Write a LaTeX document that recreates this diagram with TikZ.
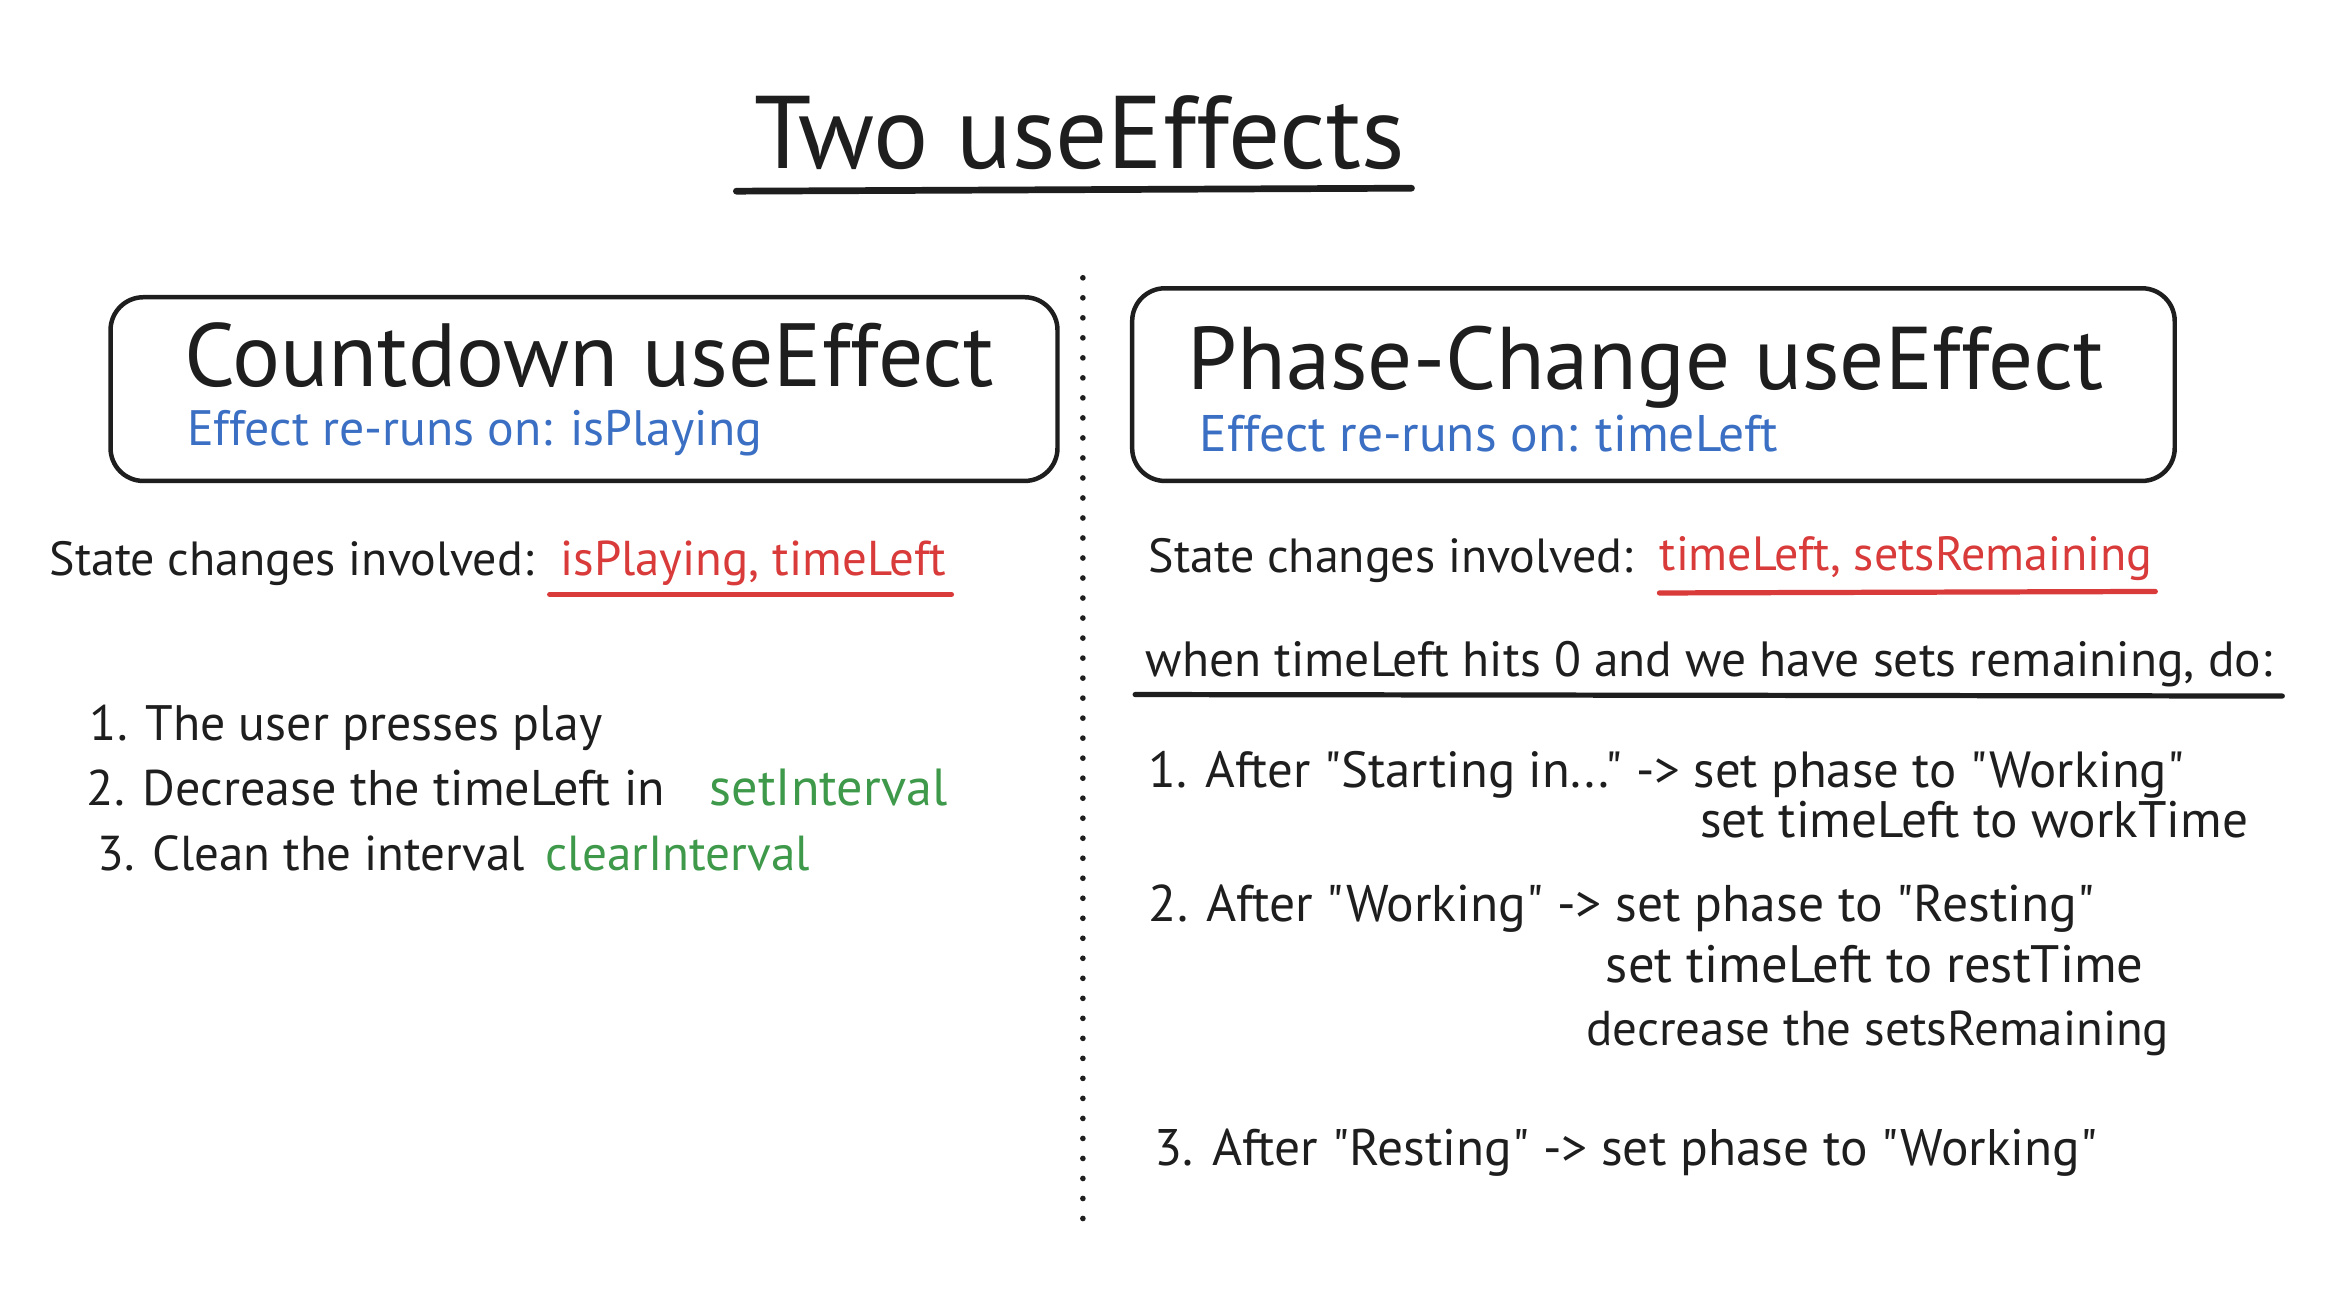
\documentclass[tikz,border=0pt]{standalone}
\usepackage{fontspec}
\setmainfont{PT Sans}[Ligatures=TeXOff]
\usepackage{graphicx}
\definecolor{ink}{HTML}{1E1E1E}
\definecolor{eblue}{HTML}{3A6FC4}
\definecolor{ered}{HTML}{D93A3A}
\definecolor{egreen}{HTML}{3E9A4A}
\newcommand\fitw[2]{\resizebox{#1pt}{!}{#2}}
\tikzset{
  txt/.style={inner sep=0pt, anchor=base west, text=ink, font=\fontsize{20}{24}\selectfont},
  bluetxt/.style={txt, text=eblue},
  redtxt/.style={txt, text=ered},
  greentxt/.style={txt, text=egreen},
  card/.style={draw=ink, line width=3pt, rounded corners=22pt},
  inkline/.style={draw=ink, line width=3.5pt, line cap=round},
  redline/.style={draw=ered, line width=3.5pt, line cap=round},
  dotline/.style={draw=ink, line width=3.8pt, line cap=round, dash pattern=on 0pt off 13.4pt}
}
\begin{document}
\begin{tikzpicture}[x=1pt,y=-1pt]
\useasboundingbox[fill=white] (0,0) rectangle (1568,869);

% title
\node[txt] (title) at (505,113) {\fitw{435}{Two useEffects}};
\coordinate (tulA) at (493,128);
\coordinate (tulB) at (945,126);
\draw[inkline, line width=4.5pt] (tulA) -- (tulB);

% divider
\coordinate (divT) at (725,186);
\coordinate (divB) at (725,825);
\draw[dotline] (divT) -- (divB);

% left card
\coordinate (lcA) at (74,199);
\coordinate (lcB) at (708,322);
\draw[card] (lcA) rectangle (lcB);
\node[txt] (lhead) at (123,259) {\fitw{542}{Countdown useEffect}};
\node[bluetxt] (lsub) at (125,298) {\fitw{385}{Effect re-runs on: isPlaying}};

% right card
\coordinate (rcA) at (758,193);
\coordinate (rcB) at (1456,322);
\draw[card] (rcA) rectangle (rcB);
\node[txt] (rhead) at (795,261) {\fitw{613}{Phase-Change useEffect}};
\node[bluetxt] (rsub) at (803,302) {\fitw{387}{Effect re-runs on: timeLeft}};

% left state changes
\node[txt] (lstate) at (33,385) {\fitw{324}{State changes involved:}};
\node[redtxt] (lstatev) at (375,385) {\fitw{258}{isPlaying, timeLeft}};
\coordinate (lulA) at (368,398);
\coordinate (lulB) at (637,398);
\draw[redline] (lulA) -- (lulB);

% right state changes
\node[txt] (rstate) at (769,383) {\fitw{324}{State changes involved:}};
\node[redtxt] (rstatev) at (1111,382) {\fitw{330}{timeLeft, setsRemaining}};
\coordinate (rulA) at (1111,397);
\coordinate (rulB) at (1443,396);
\draw[redline] (rulA) -- (rulB);

\node[txt] (when) at (767,453) {\fitw{754}{when timeLeft hits 0 and we have sets remaining, do:}};
\coordinate (wulA) at (760,465);
\coordinate (wulB) at (1528,466);
\draw[inkline] (wulA) -- (wulB);

% left list
\node[txt] (l1) at (60,496) {\fitw{343}{1. The user presses play}};
\node[txt] (l2) at (58,539) {\fitw{387}{2. Decrease the timeLeft in}};
\node[greentxt] (l2g) at (475,539) {\fitw{159}{setInterval}};
\node[txt] (l3) at (65,583) {\fitw{286}{3. Clean the interval}};
\node[greentxt] (l3g) at (365,583) {\fitw{177}{clearInterval}};

% right list
\node[txt] (r1) at (769,527) {\fitw{693}{1. After "Starting in..." -> set phase to "Working"}};
\node[txt] (r1b) at (1138,561) {\fitw{367}{set timeLeft to workTime}};
\node[txt] (r2) at (769,617) {\fitw{633}{2. After "Working" -> set phase to "Resting"}};
\node[txt] (r2b) at (1075,658) {\fitw{360}{set timeLeft to restTime}};
\node[txt] (r2c) at (1062,700) {\fitw{390}{decrease the setsRemaining}};
\node[txt] (r3) at (773,780) {\fitw{631}{3. After "Resting" -> set phase to "Working"}};
\end{tikzpicture}
\end{document}
